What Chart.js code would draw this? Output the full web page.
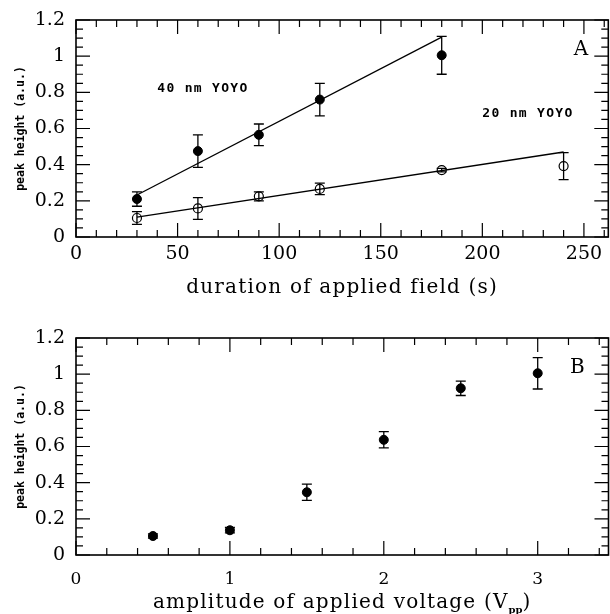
<!DOCTYPE html>
<html>
<head>
<meta charset="utf-8">
<script src="https://cdn.jsdelivr.net/npm/chart.js@4/dist/chart.umd.min.js"></script>
<style>
html, body { margin: 0; padding: 0; background: #fff; overflow: hidden; }
#wrap { position: relative; width: 610px; height: 614px; overflow: hidden; }
canvas { position: absolute; left: 0; }
#chart-a { top: 0; }
#chart-b { top: 305px; }
</style>
</head>
<body>
<div id="wrap">
  <canvas id="chart-a" width="614" height="305" style="width:614px;height:305px"></canvas>
  <canvas id="chart-b" width="614" height="309" style="width:614px;height:309px"></canvas>
</div>
<script>
// Panel A: peak height vs duration of applied field
const durations_40 = [30, 60, 90, 120, 180]
const height_40 = [0.21, 0.475, 0.565, 0.76, 1.005]
const err_40 = [0.04, 0.09, 0.06, 0.09, 0.105]
const durations_20 = [30, 60, 90, 120, 180, 240]
const height_20 = [0.105, 0.158, 0.225, 0.266, 0.37, 0.392]
const err_20 = [0.035, 0.06, 0.025, 0.032, 0.01, 0.075]
// fitted lines, end points
const fit_40 = [[30, 0.232], [180, 1.105]]
const fit_20 = [[30, 0.11], [240, 0.47]]

// Panel B: peak height vs amplitude of applied voltage
const voltages = [0.5, 1, 1.5, 2, 2.5, 3]
const height_b = [0.105, 0.137, 0.347, 0.637, 0.922, 1.005]
const err_b = [0.012, 0.015, 0.045, 0.045, 0.04, 0.087]

// tick labels
const y_ticks = [0, 0.2, 0.4, 0.6, 0.8, 1, 1.2]
const x_ticks_a = [0, 50, 100, 150, 200, 250]
const x_ticks_b = [0, 1, 2, 3]

const serif = "'DejaVu Serif', serif"
const mono = "'DejaVu Sans Mono', monospace"

const steps = (from, to, step) => {
    const out = []
    for (let i = 0; from + i * step <= to + 1e-9; i++) out.push(+(from + i * step).toFixed(4))
    return out
}
const to_points = (xs, ys) => xs.map((x, i) => ({x, y: ys[i]}))

// frame with inward ticks on all four sides
const frame_plugin = {
    id: 'frame',
    afterDraw(chart, args, o) {
        const {ctx, chartArea: a, scales: {x, y}} = chart
        ctx.save()
        ctx.strokeStyle = '#000'
        ctx.lineWidth = 1.2
        ctx.beginPath()
        const xtick = (v, len) => {
            const px = x.getPixelForValue(v)
            ctx.moveTo(px, a.bottom); ctx.lineTo(px, a.bottom - len)
            ctx.moveTo(px, a.top); ctx.lineTo(px, a.top + len)
        }
        const ytick = (v, len) => {
            const py = y.getPixelForValue(v)
            ctx.moveTo(a.left, py); ctx.lineTo(a.left + len, py)
            ctx.moveTo(a.right, py); ctx.lineTo(a.right - len, py)
        }
        o.x_minor.forEach(v => xtick(v, 7))
        o.x_major.forEach(v => xtick(v, 14))
        o.y_minor.forEach(v => ytick(v, 7))
        o.y_major.forEach(v => ytick(v, 14))
        ctx.stroke()
        ctx.lineWidth = 1.6
        ctx.strokeRect(a.left, a.top, a.right - a.left, a.bottom - a.top)
        ctx.restore()
    }
}

// vertical error bars with caps
const errorbar_plugin = {
    id: 'errorbars',
    afterDatasetsDraw(chart) {
        const {ctx, scales: {x, y}} = chart
        ctx.save()
        ctx.strokeStyle = '#000'
        ctx.lineWidth = 1.3
        chart.data.datasets.forEach(ds => {
            if (!ds.errors) return
            ds.data.forEach((p, i) => {
                const px = x.getPixelForValue(p.x)
                const top = y.getPixelForValue(p.y + ds.errors[i])
                const bot = y.getPixelForValue(p.y - ds.errors[i])
                ctx.beginPath()
                ctx.moveTo(px, top); ctx.lineTo(px, bot)
                ctx.moveTo(px - 5, top); ctx.lineTo(px + 5, top)
                ctx.moveTo(px - 5, bot); ctx.lineTo(px + 5, bot)
                ctx.stroke()
            })
        })
        ctx.restore()
    }
}

// free text in data coordinates, plus the x axis title (with optional subscript)
const notes_plugin = {
    id: 'notes',
    afterDraw(chart, args, o) {
        const {ctx, chartArea: a, scales: {x, y}} = chart
        ctx.save()
        ctx.fillStyle = '#000'
        ctx.textBaseline = 'middle'
        ctx.textAlign = 'left'
        o.items.forEach(n => {
            ctx.font = n.font
            ctx.letterSpacing = n.spacing || '0px'
            ctx.fillText(n.text, x.getPixelForValue(n.x), y.getPixelForValue(n.y))
        })
        const t = o.xtitle
        ctx.textBaseline = 'alphabetic'
        const big = `20px ${serif}`, small = `bold 10px ${serif}`
        const parts = [[t.main, big, 0], [t.sub || '', small, 5], [t.end || '', big, 0]]
        const widths = parts.map(([s, f]) => {
            ctx.font = f
            ctx.letterSpacing = f === big ? '1.2px' : '0px'
            return ctx.measureText(s).width
        })
        let cx = (a.left + a.right) / 2 - widths.reduce((s, w) => s + w, 0) / 2
        parts.forEach(([s, f, dy], i) => {
            ctx.font = f
            ctx.letterSpacing = f === big ? '1.2px' : '0px'
            ctx.fillText(s, cx, t.y + dy)
            cx += widths[i]
        })
        ctx.restore()
    }
}

const make_scales = (xmax, xticks, xfont, xpad, xheight) => ({
    x: {
        type: 'linear', min: 0, max: xmax,
        afterBuildTicks: s => { s.ticks = xticks.map(value => ({value})) },
        afterFit: s => { s.height = xheight; s.paddingLeft = 0; s.paddingRight = 0 },
        grid: {display: false, drawTicks: false, tickLength: 0},
        border: {display: false},
        ticks: {color: '#000', font: {family: serif, size: xfont}, padding: xpad, maxRotation: 0, callback: v => String(v)},
    },
    y: {
        type: 'linear', min: 0, max: 1.2,
        afterBuildTicks: s => { s.ticks = y_ticks.map(value => ({value})) },
        afterFit: s => { s.width = 76; s.paddingTop = 0; s.paddingBottom = 0 },
        grid: {display: false, drawTicks: false, tickLength: 0},
        border: {display: false},
        ticks: {color: '#000', font: {family: serif, size: 19}, padding: 11, callback: v => String(v)},
        title: {display: true, text: 'peak height (a.u.)', color: '#000',
                font: {family: mono, size: 11.5, weight: 'bold'}, padding: {top: 14, bottom: 0}}
    }
})

const base_options = {
    responsive: false,
    animation: false,
    events: [],
}

const chart_a = new Chart(document.getElementById('chart-a'), {
    type: 'scatter',
    data: {
        datasets: [
            {data: to_points(fit_40.map(p => p[0]), fit_40.map(p => p[1])), showLine: true, pointRadius: 0,
             borderColor: '#000', borderWidth: 1.3},
            {data: to_points(fit_20.map(p => p[0]), fit_20.map(p => p[1])), showLine: true, pointRadius: 0,
             borderColor: '#000', borderWidth: 1.3},
            {data: to_points(durations_40, height_40), errors: err_40, pointRadius: 4.5,
             backgroundColor: '#000', borderColor: '#000', borderWidth: 1},
            {data: to_points(durations_20, height_20), errors: err_20, pointRadius: 4.5,
             backgroundColor: 'rgba(0,0,0,0)', borderColor: '#000', borderWidth: 1.2},
        ]
    },
    options: {
        ...base_options,
        layout: {padding: {top: 20, right: 1, left: 0, bottom: 0}},
        scales: make_scales(262, x_ticks_a, 19, 6, 68),
        plugins: {
            legend: {display: false},
            tooltip: {enabled: false},
            frame: {x_major: x_ticks_a, x_minor: steps(10, 260, 10), y_major: y_ticks, y_minor: steps(0.05, 1.2, 0.05)},
            notes: {
                items: [
                    {text: '40 nm YOYO', x: 40, y: 0.82, font: `bold 13px ${mono}`, spacing: '1.3px'},
                    {text: '20 nm YOYO', x: 200, y: 0.68, font: `bold 13px ${mono}`, spacing: '1.3px'},
                    {text: 'A', x: 245, y: 1.035, font: `20px ${serif}`},
                ],
                xtitle: {main: 'duration of applied field (s)', y: 293}
            }
        }
    },
    plugins: [frame_plugin, errorbar_plugin, notes_plugin]
})

const chart_b = new Chart(document.getElementById('chart-b'), {
    type: 'scatter',
    data: {
        datasets: [
            {data: to_points(voltages, height_b), errors: err_b, pointRadius: 4.5,
             backgroundColor: '#000', borderColor: '#000', borderWidth: 1},
        ]
    },
    options: {
        ...base_options,
        layout: {padding: {top: 33, right: 1, left: 0, bottom: 0}},
        scales: make_scales(3.46, x_ticks_b, 17, 14, 59),
        plugins: {
            legend: {display: false},
            tooltip: {enabled: false},
            frame: {x_major: x_ticks_b, x_minor: steps(0.2, 3.4, 0.2), y_major: y_ticks, y_minor: steps(0.05, 1.2, 0.05)},
            notes: {
                items: [{text: 'B', x: 3.21, y: 1.035, font: `20px ${serif}`}],
                xtitle: {main: 'amplitude of applied voltage (V', sub: 'pp', end: ')', y: 303}
            }
        }
    },
    plugins: [frame_plugin, errorbar_plugin, notes_plugin]
})
</script>
</body>
</html>
